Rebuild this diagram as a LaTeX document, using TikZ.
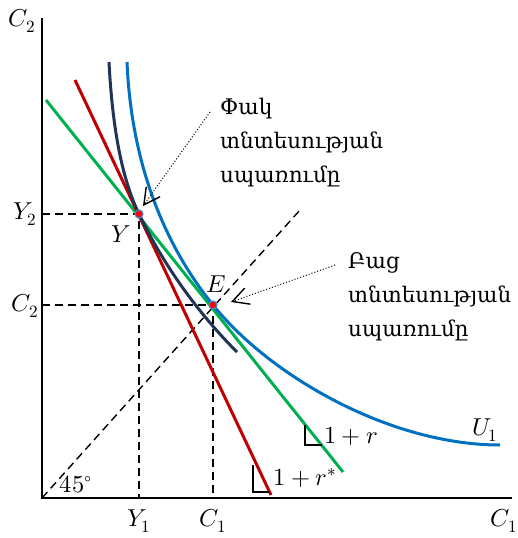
\documentclass[tikz,border=0pt]{standalone}
\usepackage{fontspec}
\usepackage{unicode-math}
\setmathfont{Latin Modern Math}
\newfontfamily\armfont{DejaVu Serif}
\usetikzlibrary{arrows.meta}
\definecolor{cred}{RGB}{192,0,0}
\definecolor{cgreen}{RGB}{0,176,80}
\definecolor{cblue}{RGB}{0,112,192}
\definecolor{cnavy}{RGB}{34,52,86}
\definecolor{cdotring}{RGB}{90,130,200}
\tikzset{
  axis/.style={line width=2pt},
  guide/.style={line width=1.4pt,dash pattern=on 8pt off 5pt},
  curveline/.style={line width=3pt},
  lbl/.style={font=\fontsize{24.5}{28}\selectfont,inner sep=0pt},
  armtext/.style={font=\armfont\fontsize{21.5}{34}\selectfont,align=left,anchor=west,inner sep=0pt},
  pointer/.style={line width=1pt,dotted,-{Straight Barb[length=16pt,width=17pt,line width=1.4pt]}},
  rightmark/.style={line width=1.4pt},
  pt/.style={circle,fill=red,draw=cdotring,line width=1.2pt,inner sep=0pt,minimum size=8pt}
}
\begin{document}
\begin{tikzpicture}[x=1pt,y=-1pt]
\useasboundingbox (0,0) rectangle (518,538);
% coordinates
\coordinate (O) at (42,498);
\coordinate (ytop) at (42,18);
\coordinate (xend) at (512,498);
\coordinate (Y2ax) at (42,214);
\coordinate (C2ax) at (42,305);
\coordinate (Y1ax) at (139,498);
\coordinate (C1ax) at (213,498);
\coordinate (d45) at (300,210);
\coordinate (gA) at (46,100);
\coordinate (gB) at (343,472);
\coordinate (rA) at (75,80);
\coordinate (rB) at (271,495);
% guides
\draw[guide] (O) -- (d45);
\draw[guide] (Y2ax) -- (139,214) -- (Y1ax);
\draw[guide] (C2ax) -- (213,305) -- (C1ax);
% lines
\draw[curveline,cgreen] (gA) -- (gB);
\draw[curveline,cred] (rA) -- (rB);
\draw[curveline,cnavy] (109,62) .. controls (113,140) and (125,185) .. (139,214)
  .. controls (165,268) and (200,315) .. (237,352);
\draw[curveline,cblue] (127,62) .. controls (132,180) and (175,258) .. (213,305)
  .. controls (270,376) and (390,445) .. (500,445);
% axes
\draw[axis] (ytop) -- (O) -- (xend);
% points
\node[pt] (Y) at (139,214) {};
\node[pt] (E) at (213,305) {};
% right angle marks
\coordinate (gm1) at (305,425); \coordinate (gm2) at (305,445); \coordinate (gm3) at (322,445);
\draw[rightmark] (gm1) -- (gm2) -- (gm3);
\coordinate (rm1) at (253,465); \coordinate (rm2) at (253,492); \coordinate (rm3) at (269,492);
\draw[rightmark] (rm1) -- (rm2) -- (rm3);
% labels
\node[lbl] (lC2t) at (22,21) {$C_2$};
\node[lbl] (lY2) at (25,214) {$Y_2$};
\node[lbl] (lC2) at (25,306) {$C_2$};
\node[lbl] (lY1) at (139,521) {$Y_1$};
\node[lbl] (lC1) at (213,521) {$C_1$};
\node[lbl] (lC1r) at (504,521) {$C_1$};
\node[lbl] (lY) at (121,234) {$Y$};
\node[lbl] (lE) at (216,284) {$E$};
\node[lbl] (lU) at (485,430) {$U_1$};
\node[lbl] (lr) at (351,436) {$1+r$};
\node[lbl] (lrs) at (305,478) {$1+r^{*}$};
\node[lbl] (l45) at (76,484) {$45^{\circ}$};
% texts
\node[armtext] (closed) at (220,143) {Փակ\\տնտեսության\\սպառումը};
\node[armtext] (open) at (348,297) {Բաց\\տնտեսության\\սպառումը};
\coordinate (ptipY) at (143,206);
\coordinate (ptipE) at (231,302);
\draw[pointer] (210,112) -- (ptipY);
\draw[pointer] (335,265) -- (ptipE);
\end{tikzpicture}
\end{document}
